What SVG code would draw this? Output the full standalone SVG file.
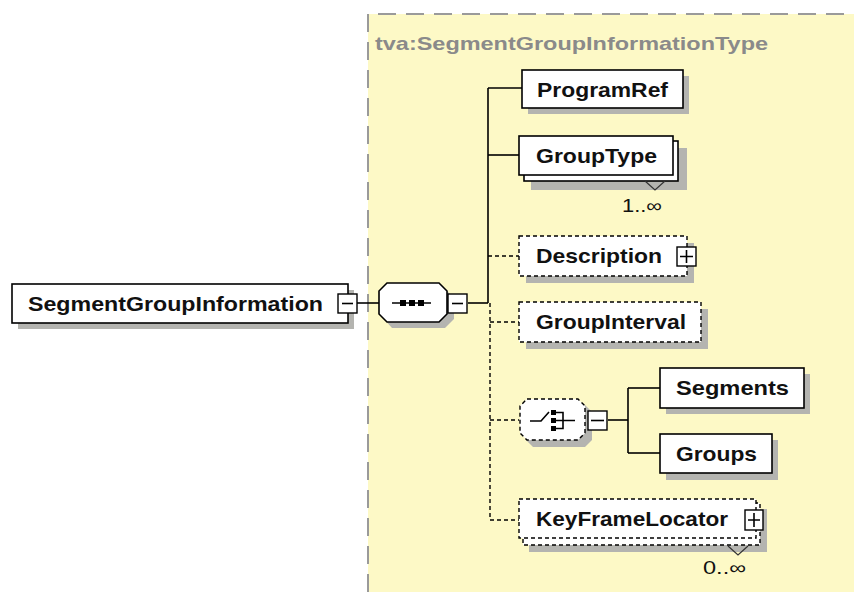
<svg xmlns="http://www.w3.org/2000/svg" width="854" height="592" viewBox="0 0 854 592">
  <style>
    .box { fill: #ffffff; stroke: #000000; stroke-width: 1.6; }
    .opt { fill: #ffffff; stroke: #000000; stroke-width: 1.4; stroke-dasharray: 4 3; }
    .shadow { fill: #b4b4b0; }
    .lbl { font-family: "Liberation Sans", Arial, sans-serif; font-weight: bold; font-size: 21px; fill: #111111; }
    .card { font-family: "Liberation Sans", Arial, sans-serif; font-size: 18px; fill: #111111; }
    .wire { stroke: #000000; stroke-width: 1.6; fill: none; }
    .dwire { stroke: #000000; stroke-width: 1.4; fill: none; stroke-dasharray: 4 3; }
    .tog { fill: #ffffff; stroke: #000000; stroke-width: 1.4; }
  </style>

  <rect width="854" height="592" fill="#ffffff"/>

  <!-- complex type area -->
  <g id="type-area">
    <rect x="368" y="14" width="500" height="590" fill="#fdf9c6"/>
    <path d="M368 592 V14 H854" fill="none" stroke="#9a9a9a" stroke-width="2" stroke-dasharray="18 10"/>
    <text x="375" y="50" font-family="Liberation Sans, Arial, sans-serif" font-weight="bold" font-size="19" fill="#8a8a8a" textLength="393" lengthAdjust="spacingAndGlyphs">tva:SegmentGroupInformationType</text>
  </g>

  <!-- connectors -->
  <g id="connectors">
    <path class="wire" d="M357 303 H380"/>
    <path class="wire" d="M468 303 H488"/>
    <path class="wire" d="M488 88 V303"/>
    <path class="wire" d="M488 88 H522"/>
    <path class="wire" d="M488 155 H519"/>
    <path class="dwire" d="M490 303 V520"/>
    <path class="dwire" d="M488 256 H519"/>
    <path class="dwire" d="M490 322 H519"/>
    <path class="dwire" d="M490 420 H519"/>
    <path class="dwire" d="M490 520 H519"/>
    <path class="wire" d="M608 420 H628"/>
    <path class="wire" d="M628 388 V453"/>
    <path class="wire" d="M628 388 H660"/>
    <path class="wire" d="M628 453 H660"/>
  </g>

  <!-- root element -->
  <g id="SegmentGroupInformation">
    <rect class="shadow" x="18" y="290" width="336" height="39"/>
    <rect class="box" x="12" y="284" width="336" height="39"/>
    <text class="lbl" x="28" y="311" font-size="22" textLength="295" lengthAdjust="spacingAndGlyphs">SegmentGroupInformation</text>
    <rect class="tog" x="338" y="294" width="19" height="19"/>
    <path class="wire" d="M342 303.5 H353"/>
  </g>

  <!-- sequence compositor -->
  <g id="sequence">
    <path class="shadow" d="M392 289 H445 L454 298 V319 L445 328 H392 L384 319 V298 Z"/>
    <path d="M387 283 H439 L447 291 V314 L439 322 H387 L379 314 V291 Z" fill="#ffffff" stroke="#000" stroke-width="1.6"/>
    <path class="wire" d="M392 303 H431"/>
    <rect x="400" y="300" width="6" height="6" fill="#000"/>
    <rect x="409" y="300" width="6" height="6" fill="#000"/>
    <rect x="418" y="300" width="6" height="6" fill="#000"/>
    <rect class="tog" x="448" y="294" width="19" height="19"/>
    <path class="wire" d="M452 303.5 H463"/>
  </g>

  <g id="ProgramRef">
    <rect class="shadow" x="528" y="76" width="161" height="38"/>
    <rect class="box" x="522" y="70" width="161" height="38"/>
    <text class="lbl" x="537" y="97" textLength="131" lengthAdjust="spacingAndGlyphs">ProgramRef</text>
  </g>

  <g id="GroupType">
    <rect class="shadow" x="531" y="148" width="156" height="42"/>
    <rect class="box" x="524" y="141" width="154" height="40"/>
    <rect class="box" x="519" y="136" width="154" height="39"/>
    <text class="lbl" x="536" y="163" textLength="121" lengthAdjust="spacingAndGlyphs">GroupType</text>
    <path d="M645 181 L655 190 L665 181" fill="none" stroke="#333" stroke-width="1.2"/>
    <text class="card" x="622" y="212" textLength="40" lengthAdjust="spacingAndGlyphs">1..∞</text>
  </g>

  <g id="Description">
    <rect class="shadow" x="526" y="243" width="168" height="40"/>
    <rect class="opt" x="519" y="236" width="168" height="40"/>
    <text class="lbl" x="536" y="263" textLength="126" lengthAdjust="spacingAndGlyphs">Description</text>
    <rect class="tog" x="677" y="247" width="19" height="19"/>
    <path class="wire" d="M680 256.5 H693 M686.5 250 V263"/>
  </g>

  <g id="GroupInterval">
    <rect class="shadow" x="526" y="309" width="182" height="40"/>
    <rect class="opt" x="519" y="302" width="182" height="40"/>
    <text class="lbl" x="536" y="329" textLength="150" lengthAdjust="spacingAndGlyphs">GroupInterval</text>
  </g>

  <!-- choice compositor -->
  <g id="choice">
    <path class="shadow" d="M533 405 H585 L592 412 V440 L585 447 H533 L526 440 V412 Z"/>
    <path d="M527 399 H578 L585 406 V433 L578 440 H527 L520 433 V406 Z" fill="#ffffff" stroke="#000" stroke-width="1.4" stroke-dasharray="4 3"/>
    <path class="wire" d="M530 421 H541 L549 412" stroke-width="1.5"/>
    <rect x="551" y="410" width="5" height="5" fill="#000"/>
    <rect x="551" y="418" width="5" height="5" fill="#000"/>
    <rect x="551" y="426" width="5" height="5" fill="#000"/>
    <path class="wire" d="M556 412.5 H563 V428.5 H556 M556 420.5 H575" stroke-width="1.5"/>
    <rect class="tog" x="588" y="411" width="19" height="19"/>
    <path class="wire" d="M591 420.5 H604"/>
  </g>

  <g id="Segments">
    <rect class="shadow" x="666" y="374" width="144" height="40"/>
    <rect class="box" x="660" y="368" width="144" height="40"/>
    <text class="lbl" x="676" y="395" textLength="113" lengthAdjust="spacingAndGlyphs">Segments</text>
  </g>

  <g id="Groups">
    <rect class="shadow" x="666" y="440" width="112" height="40"/>
    <rect class="box" x="660" y="434" width="112" height="39"/>
    <text class="lbl" x="676" y="461" textLength="81" lengthAdjust="spacingAndGlyphs">Groups</text>
  </g>

  <g id="KeyFrameLocator">
    <rect class="shadow" x="529" y="509" width="238" height="43"/>
    <rect class="opt" x="523" y="503" width="237" height="42"/>
    <rect class="opt" x="519" y="499" width="237" height="39"/>
    <text class="lbl" x="536" y="526" textLength="192" lengthAdjust="spacingAndGlyphs">KeyFrameLocator</text>
    <rect class="tog" x="745" y="510" width="18" height="20"/>
    <path class="wire" d="M748 520 H760 M754 513 V527"/>
    <path d="M728 546 L738 555 L748 546" fill="none" stroke="#333" stroke-width="1.2"/>
    <text class="card" x="703" y="574" textLength="43" lengthAdjust="spacingAndGlyphs">0..∞</text>
  </g>
</svg>
